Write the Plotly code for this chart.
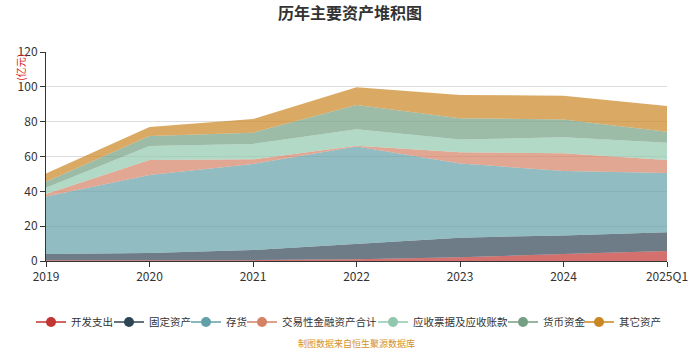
import plotly.graph_objects as go

categories = ["2019", "2020", "2021", "2022", "2023", "2024", "2025Q1"]
series_names = ["开发支出", "固定资产", "存货", "交易性金融资产合计", "应收票据及应收账款", "货币资金", "其它资产"]
kaifa = [0.5, 0.5, 0.5, 1.0, 2.1, 4.0, 5.7]
guding = [3.5, 4.1, 5.8, 8.8, 11.3, 10.7, 10.8]
cunhuo = [33.0, 44.8, 49.4, 56.0, 42.6, 37.0, 34.0]
jiaoyi = [1.5, 8.6, 2.7, 0.4, 6.4, 10.1, 7.5]
yingshou = [3.5, 8.0, 8.8, 9.4, 7.4, 9.2, 9.9]
huobi = [3.5, 5.8, 6.5, 13.9, 12.1, 10.3, 6.3]
qita = [4.8, 5.1, 7.8, 10.2, 13.4, 13.6, 14.8]
y_ticks = [0, 20, 40, 60, 80, 100, 120]

values = [kaifa, guding, cunhuo, jiaoyi, yingshou, huobi, qita]
colors = ["#c23531", "#2f4554", "#61a0a8", "#d48265", "#91c7ae", "#749f83", "#ca8622"]
# legend symbol centres (pixels within the 700px canvas)
legend_centres = [52, 130, 207, 263, 394, 524, 600]

W, H = 700, 350

def rgba(hexc, a):
    h = hexc.lstrip("#")
    return "rgba(%d,%d,%d,%.2f)" % (int(h[0:2], 16), int(h[2:4], 16), int(h[4:6], 16), a)

font = "Noto Sans CJK SC"
fig = go.Figure()
for name, vals, c in zip(series_names, values, colors):
    fig.add_trace(go.Scatter(
        x=categories, y=vals, name=name, stackgroup="one", mode="lines",
        line=dict(width=0, color=c), fillcolor=rgba(c, 0.7), showlegend=False,
        hoverinfo="x+y+name"))

legend_layouts = {}
for i, (name, c) in enumerate(zip(series_names, colors)):
    lid = "legend" if i == 0 else "legend%d" % (i + 1)
    fig.add_trace(go.Scatter(
        x=[None], y=[None], name=name, mode="lines+markers", legend=lid,
        line=dict(color=c, width=1.5), marker=dict(color=c, size=10)))
    legend_layouts[lid] = dict(
        xref="container", yref="container", x=(legend_centres[i] - 21) / W, xanchor="left",
        y=1 - 322 / H, yanchor="middle", orientation="h", itemwidth=30,
        font=dict(size=10.5, color="#333", family=font), bgcolor="rgba(0,0,0,0)",
        borderwidth=0)

fig.update_layout(
    width=W, height=H,
    margin=dict(l=46, r=29, t=52, b=89),
    paper_bgcolor="white", plot_bgcolor="white",
    font=dict(family=font, size=12, color="#333"),
    title=dict(text="<b>历年主要资产堆积图</b>", x=0.5, xanchor="center", y=1 - 13 / H, yanchor="middle",
               font=dict(family=font, size=16, color="#333")),
    xaxis=dict(type="category", range=[0, 6], showgrid=False, showline=True, linecolor="#333",
               linewidth=1, ticks="outside", ticklen=5, tickcolor="#333",
               tickfont=dict(size=12, color="#333")),
    yaxis=dict(range=[0, 120], tickvals=y_ticks, showgrid=True, gridcolor="#dddddd", gridwidth=1,
               showline=True, linecolor="#333", linewidth=1, ticks="outside", ticklen=5,
               tickcolor="#333", zeroline=False, tickfont=dict(size=12, color="#333")),
    showlegend=True,
    **legend_layouts,
)
fig.add_annotation(text="(亿元)", xref="paper", yref="paper", x=(20 - 46) / 625, y=1.0,
                   xanchor="center", yanchor="top", showarrow=False,
                   textangle=-90, font=dict(size=10, color="#e02020", family=font))
fig.add_annotation(text="制图数据来自恒生聚源数据库", xref="paper", yref="paper", x=0.5,
                   y=-(343 - 261) / 209, showarrow=False,
                   font=dict(size=9, color="#d4902a", family=font),
                   xanchor="center", yanchor="middle")
fig.write_html("out.html")
